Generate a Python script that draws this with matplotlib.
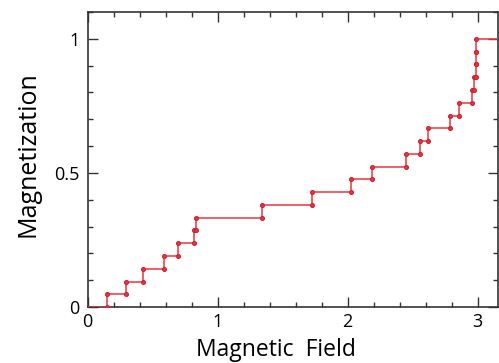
import numpy as np
import matplotlib.pyplot as plt
from matplotlib.ticker import MultipleLocator

# Campos donde salta la magnetización y niveles de cada escalón
campo_salto = [0.146, 0.295, 0.428, 0.590, 0.697, 0.820, 0.833, 1.343, 1.728, 2.025, 2.190,
               2.446, 2.553, 2.615, 2.787, 2.856, 2.957, 2.975, 2.985, 2.988, 2.990]
nivel = [0.0, 0.048, 0.095, 0.143, 0.190, 0.238, 0.286, 0.333, 0.381, 0.429, 0.476,
         0.524, 0.571, 0.619, 0.667, 0.714, 0.762, 0.810, 0.857, 0.905, 0.952, 1.0]
campo_max = 3.2

# esquinas de la escalera
xs, ys = [], []
for i, h in enumerate(campo_salto):
    xs += [h, h]
    ys += [nivel[i], nivel[i + 1]]

rojo = '#e8353f'
fig = plt.figure(figsize=(4.99, 3.63), dpi=100)
ax = fig.add_axes([0.1758, 0.154, 0.822, 0.813])

ax.plot([0] + xs + [campo_max], [0] + ys + [nivel[-1]], '-', color=rojo, lw=1.1, zorder=3)
ax.plot(xs, ys, 'o', color=rojo, ms=2.8, mec='#d02030', mew=0.8, zorder=4)

ax.set_xlim(0, 3.156)
ax.set_ylim(0, 1.10)
ax.xaxis.set_major_locator(MultipleLocator(1))
ax.xaxis.set_minor_locator(MultipleLocator(0.2))
ax.yaxis.set_major_locator(MultipleLocator(0.5))
ax.yaxis.set_minor_locator(MultipleLocator(0.1))
ax.xaxis.set_major_formatter(lambda v, p: f'{v:g}')
ax.yaxis.set_major_formatter(lambda v, p: f'{v:g}')

ax.tick_params(which='both', direction='in', top=True, right=True, color='#333333',
               labelsize=13, width=1.0)
ax.tick_params(which='major', length=7, pad=4)
ax.tick_params(which='minor', length=3.5)
ax.tick_params(axis='y', which='major', pad=6)
for s in ax.spines.values():
    s.set_linewidth(1.2)
    s.set_color('#333333')

fuente = 'Open Sans'
for lab in ax.get_xticklabels() + ax.get_yticklabels():
    lab.set_family(fuente)
ax.set_xlabel('Magnetic  Field', fontsize=16.5, family=fuente, va='center')
ax.set_ylabel('Magnetization', fontsize=18, family=fuente, va='center')
ax.xaxis.set_label_coords(0.46, -0.145)
ax.yaxis.set_label_coords(-0.146, 0.52)

fig.savefig('out.png', dpi=100)
